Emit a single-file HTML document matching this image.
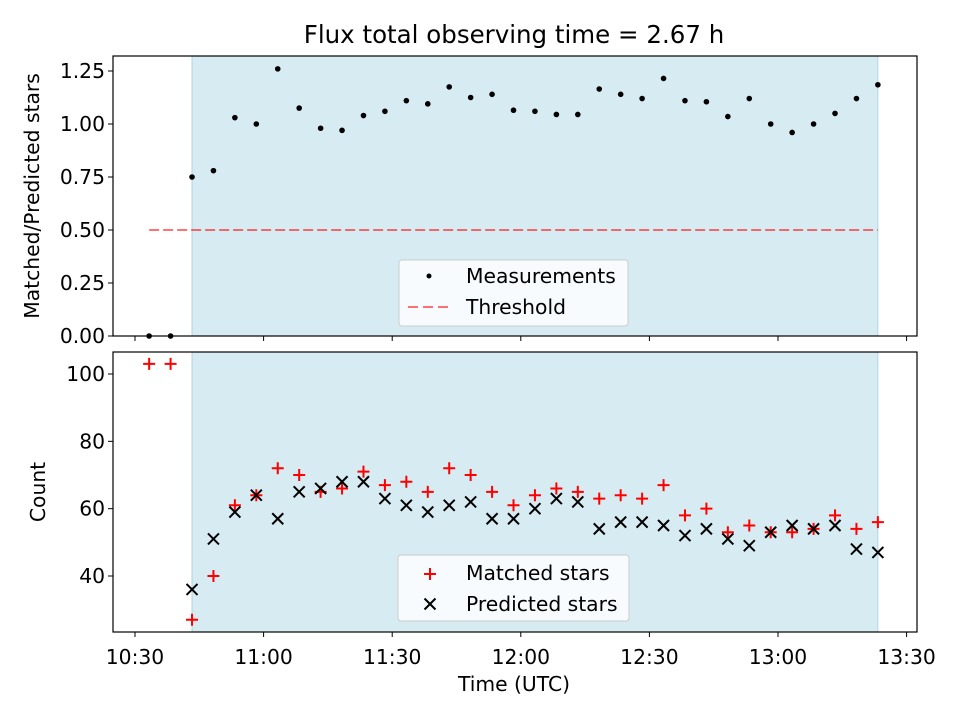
<!DOCTYPE html>
<html><head><meta charset="utf-8"><style>
body{margin:0;background:#fff;}
svg{display:block;font-family:"DejaVu Sans","Liberation Sans",sans-serif;}
</style></head><body>
<svg id="chart" width="960" height="720"></svg>
<script>
const times = []; // minutes after 10:30
for (let i = 0; i < 35; i++) times.push(3.3 + 5 * i);
const ratioValues = [0,0,0.75,0.78,1.03,1.0,1.26,1.075,0.98,0.97,1.04,1.06,1.11,1.095,1.175,1.125,1.14,1.065,1.06,1.045,1.045,1.165,1.14,1.12,1.215,1.11,1.105,1.035,1.12,1.0,0.96,1.0,1.05,1.12,1.185];
const matchedValues = [103,103,27,40,61,64,72,70,65,66,71,67,68,65,72,70,65,61,64,66,65,63,64,63,67,58,60,53,55,53,53,54,58,54,56];
const predictedValues = [null,null,36,51,59,64,57,65,66,68,68,63,61,59,61,62,57,57,60,63,62,54,56,56,55,52,54,51,49,53,55,54,55,48,47];
const threshold = 0.5;
const shadeStart = 13.3, shadeEnd = 173.3, thrStart = 3.3, thrEnd = 173.3;
const xTickLabels = ["10:30","11:00","11:30","12:00","12:30","13:00","13:30"];
const xTickMinutes = [0,30,60,90,120,150,180];
const topTicks = [0,0.25,0.5,0.75,1.0,1.25];
const botTicks = [40,60,80,100];

const NS="http://www.w3.org/2000/svg";
const svg=document.getElementById('chart');
function el(tag,attrs,parent){const e=document.createElementNS(NS,tag);for(const k in attrs)e.setAttribute(k,attrs[k]);(parent||svg).appendChild(e);return e;}
const L=113,R=917,FS=20.3;
const xs=m=>135+(m)*(128.6/30);
const yTop=v=>336-v*212;
const yBot=v=>374+(100-v)*(202/60);

let t=el('text',{x:514,y:43,'text-anchor':'middle','font-size':24.5});t.textContent="Flux total observing time = 2.67 h";


function panel(top,bottom,yfn,ticks,fmt,ylabel,name){
  const g=el('g',{});
  
  const sh=el('rect',{x:xs(shadeStart),y:top,width:xs(shadeEnd)-xs(shadeStart),height:bottom-top,fill:'#add8e6','fill-opacity':0.5,stroke:'#add8e6'},g);
  
  ticks.forEach(v=>{const y=yfn(v);el('line',{x1:L-5,x2:L,y1:y,y2:y,stroke:'#000'},g);
    const tx=el('text',{x:L-8,y:y+7,'text-anchor':'end','font-size':FS},g);tx.textContent=fmt(v);
    });
  xTickMinutes.forEach(m=>el('line',{x1:xs(m),x2:xs(m),y1:bottom,y2:bottom+5,stroke:'#000'},g));
  const yl=el('text',{x:0,y:0,transform:`translate(${name==='top-panel'?39:45},${(top+bottom)/2}) rotate(-90)`,'text-anchor':'middle','font-size':FS},g);
  yl.textContent=ylabel;
  return g;
}
const gTop=panel(56,336,yTop,topTicks,v=>v.toFixed(2),"Matched/Predicted stars",'top-panel');
const thr=el('line',{x1:xs(thrStart),x2:xs(thrEnd),y1:yTop(threshold),y2:yTop(threshold),stroke:'#ff0000','stroke-opacity':0.55,'stroke-width':2,'stroke-dasharray':'10,4'},gTop);

ratioValues.forEach((v,i)=>{const c=el('circle',{cx:xs(times[i]),cy:yTop(v),r:2.8,fill:'#000'},gTop);
  });
el('rect',{x:L,y:56,width:R-L,height:280,fill:'none',stroke:'#000','stroke-width':1.2},gTop);

const gBot=panel(352,632,yBot,botTicks,v=>String(v),"Count",'bottom-panel');
matchedValues.forEach((v,i)=>{const x=xs(times[i]),y=yBot(v);
  const p=el('path',{d:`M${x-6},${y}H${x+6}M${x},${y-6}V${y+6}`,stroke:'#ff0000','stroke-width':2},gBot);
  });
predictedValues.forEach((v,i)=>{if(v==null)return;const x=xs(times[i]),y=yBot(v);
  const p=el('path',{d:`M${x-5.5},${y-5.5}L${x+5.5},${y+5.5}M${x-5.5},${y+5.5}L${x+5.5},${y-5.5}`,stroke:'#000','stroke-width':2},gBot);
  });
el('rect',{x:L,y:352,width:R-L,height:280,fill:'none',stroke:'#000','stroke-width':1.2},gBot);
xTickMinutes.forEach((m,i)=>{const tx=el('text',{x:xs(m),y:664,'text-anchor':'middle','font-size':FS});tx.textContent=xTickLabels[i];
  });
const xl=el('text',{x:514,y:691,'text-anchor':'middle','font-size':FS});xl.textContent="Time (UTC)";


const lg1=el('g',{});
el('rect',{x:399,y:260,width:229,height:66,rx:3,fill:'#fff','fill-opacity':0.8,stroke:'#ccc'},lg1);
el('circle',{cx:429,cy:276,r:2.5,fill:'#000'},lg1);
let a=el('text',{x:466,y:283,'font-size':FS},lg1);a.textContent="Measurements";
el('line',{x1:408,x2:450,y1:307,y2:307,stroke:'#ff0000','stroke-opacity':0.55,'stroke-width':2,'stroke-dasharray':'10,5'},lg1);
a=el('text',{x:466,y:314,'font-size':FS},lg1);a.textContent="Threshold";

const lg2=el('g',{});
el('rect',{x:398,y:555,width:231,height:66,rx:3,fill:'#fff','fill-opacity':0.8,stroke:'#ccc'},lg2);
el('path',{d:'M424,574H436M430,568V580',stroke:'#ff0000','stroke-width':2},lg2);
a=el('text',{x:466,y:580,'font-size':FS},lg2);a.textContent="Matched stars";
el('path',{d:'M424.5,598.5L435.5,609.5M424.5,609.5L435.5,598.5',stroke:'#000','stroke-width':2},lg2);
a=el('text',{x:466,y:611,'font-size':FS},lg2);a.textContent="Predicted stars";
</script>
</body></html>
